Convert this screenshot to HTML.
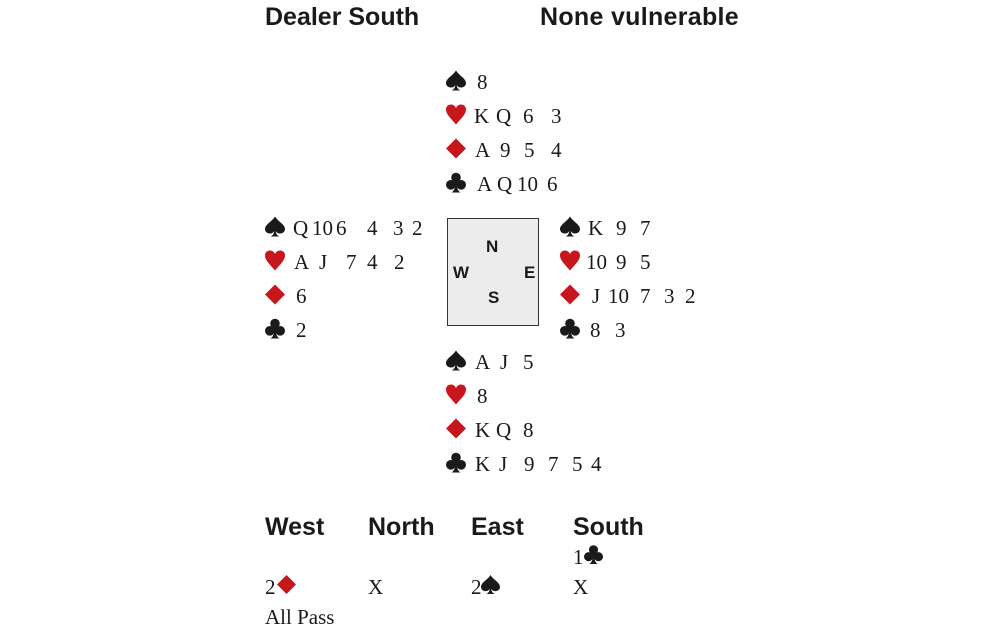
<!DOCTYPE html>
<html><head><meta charset="utf-8"><style>
body{margin:0;background:#fff;width:1000px;height:642px;position:relative;overflow:hidden}
.h{position:absolute;font-family:"Liberation Sans",sans-serif;font-weight:bold;font-size:25px;color:#1a1a1a;line-height:26px}
.t{position:absolute;font-family:"Liberation Serif",serif;font-size:21px;color:#1a1a1a;line-height:24px}
.s{position:absolute;width:20px;height:21px}
.box{position:absolute;left:447px;top:218px;width:90px;height:106px;border:1.5px solid #333;background:#ececec}
.c{position:absolute;font-family:"Liberation Sans",sans-serif;font-weight:bold;font-size:17px;color:#1a1a1a;line-height:18px}
</style></head><body>
<svg width="0" height="0" style="position:absolute">
<defs>
<symbol id="H" viewBox="0 0 20 20"><path fill="#c8161d" d="M10 20 C4 13 0 9.5 0 5 C0 2 2 0 5 0 C7.5 0 9 1.5 10 3.5 C11 1.5 12.5 0 15 0 C18 0 20 2 20 5 C20 9.5 16 13 10 20Z"/></symbol>
<symbol id="D" viewBox="0 0 20 20"><path fill="#c8161d" d="M10 0 L20 10 L10 20 L0 10Z"/></symbol>
<symbol id="S" viewBox="0 0 20 20"><path fill="#1a1a1a" d="M10 0 C7 5 0 8 0 12.5 C0 15.5 2.5 17 5 17 C7 17 8.5 16 9.2 14.5 C9 17 8 19 5.5 20 L14.5 20 C12 19 11 17 10.8 14.5 C11.5 16 13 17 15 17 C17.5 17 20 15.5 20 12.5 C20 8 13 5 10 0Z"/></symbol>
<symbol id="C" viewBox="0 0 20 20"><g fill="#1a1a1a"><circle cx="10" cy="5" r="4.8"/><circle cx="4.8" cy="12.3" r="4.8"/><circle cx="15.2" cy="12.3" r="4.8"/><rect x="7" y="7" width="6" height="6"/><path d="M9.2 11 C9 16 8 18.5 5.5 20 L14.5 20 C12 18.5 11 16 10.8 11Z"/></g></symbol>
</defs></svg>
<div class="h" style="left:265px;top:4px">Dealer South</div>
<div class="h" style="left:540px;top:4px;letter-spacing:0.3px">None vulnerable</div>

<div class="box"></div>
<div class="c" style="left:486px;top:238px">N</div>
<div class="c" style="left:453px;top:264px">W</div>
<div class="c" style="left:524px;top:264px">E</div>
<div class="c" style="left:488px;top:289px">S</div>

<div id="cards"></div>

<div class="h" style="left:265px;top:514px">West</div>
<div class="h" style="left:368px;top:514px">North</div>
<div class="h" style="left:471px;top:514px">East</div>
<div class="h" style="left:573px;top:514px">South</div>
<div class="t" style="left:573px;top:545px">1</div><svg class="s" style="left:584px;top:545px;width:19px;height:19px"><use href="#C"/></svg>
<div class="t" style="left:265px;top:575px">2</div><svg class="s" style="left:277px;top:575px;width:19px;height:19px"><use href="#D"/></svg>
<div class="t" style="left:368px;top:575px">X</div>
<div class="t" style="left:471px;top:575px">2</div><svg class="s" style="left:481px;top:575px;width:19px;height:19px"><use href="#S"/></svg>
<div class="t" style="left:573px;top:575px">X</div>
<div class="t" style="left:265px;top:605px">All Pass</div>

<script>
var rows=[
 [446,82,'S',[[477,'8']]],
 [446,116,'H',[[474,'K'],[496,'Q'],[523,'6'],[551,'3']]],
 [446,150,'D',[[475,'A'],[500,'9'],[524,'5'],[551,'4']]],
 [446,184,'C',[[477,'A'],[497,'Q'],[517,'10'],[547,'6']]],
 [265,228,'S',[[293,'Q'],[312,'10'],[336,'6'],[367,'4'],[393,'3'],[412,'2']]],
 [265,262,'H',[[294,'A'],[319,'J'],[346,'7'],[367,'4'],[394,'2']]],
 [265,296,'D',[[296,'6']]],
 [265,330,'C',[[296,'2']]],
 [560,228,'S',[[588,'K'],[616,'9'],[640,'7']]],
 [560,262,'H',[[586,'10'],[616,'9'],[640,'5']]],
 [560,296,'D',[[592,'J'],[608,'10'],[640,'7'],[664,'3'],[685,'2']]],
 [560,330,'C',[[590,'8'],[615,'3']]],
 [446,362,'S',[[475,'A'],[500,'J'],[523,'5']]],
 [446,396,'H',[[477,'8']]],
 [446,430,'D',[[475,'K'],[496,'Q'],[523,'8']]],
 [446,464,'C',[[475,'K'],[499,'J'],[524,'9'],[548,'7'],[572,'5'],[591,'4']]]
];
var h='';
rows.forEach(function(r){
 h+='<svg class="s" style="left:'+r[0]+'px;top:'+(r[1]-12)+'px"><use href="#'+r[2]+'"/></svg>';
 r[3].forEach(function(c){h+='<div class="t" style="left:'+c[0]+'px;top:'+(r[1]-12)+'px">'+c[1]+'</div>';});
});
document.getElementById('cards').innerHTML=h;
</script>
</body></html>
